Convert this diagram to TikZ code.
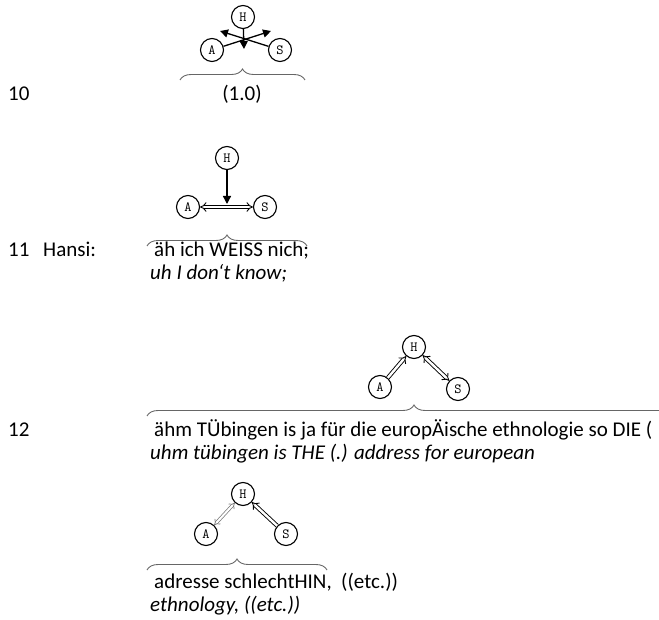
\documentclass[tikz,border=0pt]{standalone}
\usepackage{fontspec}
\setmainfont{Carlito}
\usetikzlibrary{arrows.meta,decorations.pathreplacing}
\begin{document}
\begin{tikzpicture}[x=1pt,y=-1pt,
  party/.style={circle,draw,line width=1.1pt,minimum size=23pt,inner sep=0pt,font=\ttfamily\fontsize{14}{14}\selectfont},
  txt/.style={anchor=base west,inner sep=0pt,font=\fontsize{21}{21}\selectfont},
  itxt/.style={txt,font=\fontsize{21}{21}\selectfont\itshape},
  br/.style={draw=black!60,line width=0.9pt,decorate,decoration={brace,amplitude=11pt}},
  arr/.style={line width=1.3pt,-{Triangle[length=8pt,width=8pt]}},
  dbl/.style={double,double distance=2.4pt,line width=0.9pt},
  dblg/.style={double,double distance=2pt,line width=0.7pt,draw=black!55}
]
\useasboundingbox (0,0) rectangle (659,620);
\clip (0,0) rectangle (659,620);
% ---- 10
\node[party] (H1) at (243,17) {H};
\node[party] (A1) at (212,50) {A};
\node[party] (S1) at (280,50) {S};
\coordinate (T1r) at (271,31);
\coordinate (T1l) at (220,31);
\coordinate (T1d) at (244,49);
\draw[arr] (A1) -- (T1r);
\draw[arr] (S1) -- (T1l);
\draw[arr] (H1) -- (T1d);
\coordinate (b1l) at (180,80);
\coordinate (b1r) at (305,80);
\draw[br] (b1l) -- (b1r);
\node[txt] (n10) at (8,101) {10};
\node[txt,anchor=base] (t10) at (242,101) {(1.0)};
% ---- 11
\node[party] (H2) at (227,158) {H};
\node[party] (A2) at (188,207) {A};
\node[party] (S2) at (265,207) {S};
\draw[dbl,{Implies}-{Implies}] (A2) -- (S2);
\coordinate (T2d) at (227,204);
\draw[arr] (H2) -- (T2d);
\coordinate (b2l) at (147,246);
\coordinate (b2r) at (307,246);
\draw[br] (b2l) -- (b2r);
\node[txt] (n11) at (8,257) {11};
\node[txt] (hansi) at (43,257) {Hansi:};
\node[txt] (t11a) at (154,257) {äh ich WEISS nich;};
\node[itxt] (t11b) at (150,280) {uh I don‘t know;};
% ---- 12
\node[party] (H3) at (414,347) {H};
\node[party] (A3) at (380,387) {A};
\node[party] (S3) at (458,389) {S};
\draw[dbl,-{Implies}] (A3) -- (H3);
\draw[dbl,{Implies}-{Implies}] (H3) -- (S3);
\coordinate (b3l) at (147,416);
\coordinate (b3r) at (681,416);
\draw[br] (b3l) -- (b3r);
\node[txt] (n12) at (8,436) {12};
\node[txt] (t12a) at (154,436) {ähm TÜbingen is ja für die europÄische ethnologie so DIE (};
\node[itxt] (t12b) at (150,459) {uhm tübingen is THE (.) address for european};
% ---- 12 cont.
\node[party] (H4) at (243,494) {H};
\node[party] (A4) at (206,534) {A};
\node[party] (S4) at (286,534) {S};
\draw[dblg,{Implies}-{Implies}] (A4) -- (H4);
\draw[dbl,-{Implies}] (S4) -- (H4);
\coordinate (b4l) at (147,570);
\coordinate (b4r) at (327,570);
\draw[br] (b4l) -- (b4r);
\node[txt] (t13a) at (154,588) {adresse schlechtHIN,\ \ ((etc.))};
\node[itxt] (t13b) at (150,611) {ethnology, ((etc.))};
\end{tikzpicture}
\end{document}
